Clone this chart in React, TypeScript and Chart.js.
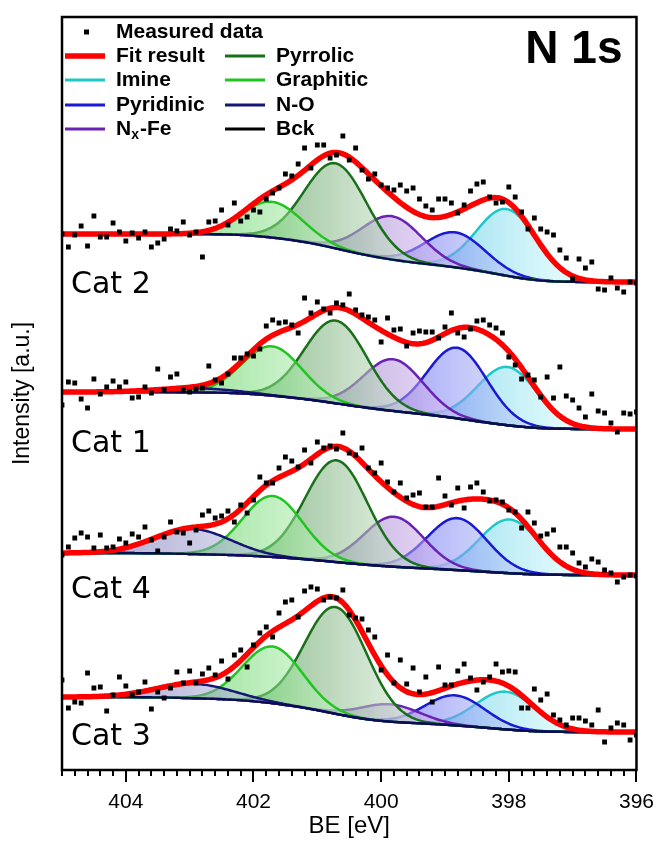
import React, { useEffect, useRef } from "react";
import { Chart, registerables } from "chart.js";
Chart.register(...registerables);

// ---------- data ----------
const SPECTRA = ["Cat 2", "Cat 1", "Cat 4", "Cat 3"];
const COMPONENTS = ["Imine", "Pyridinic", "Nx-Fe", "Pyrrolic", "Graphitic", "N-O"];
const COMP_LINE = ["#1ec8c8", "#1a1ad2", "#6a22b4", "#1a701a", "#22c422", "#161676"];
const COMP_FILL_LEFT = [
  "rgba(70,195,225,0.60)",
  "rgba(85,85,240,0.60)",
  "rgba(125,95,185,0.55)",
  "rgba(70,145,70,0.62)",
  "rgba(80,205,80,0.58)",
  "rgba(80,80,160,0.50)",
];
const COMP_FILL_RIGHT = [
  "rgba(220,255,255,0.50)",
  "rgba(200,215,250,0.50)",
  "rgba(238,208,255,0.55)",
  "rgba(222,238,222,0.55)",
  "rgba(205,248,205,0.50)",
  "rgba(205,205,238,0.45)",
];
const FWHM = [1.1, 1.1, 1.1, 1.15, 1.1, 1.4];

// peak centres (eV) : Imine, Pyridinic, Nx-Fe, Pyrrolic, Graphitic, N-O
const CENTER_CAT2 = [398.03, 398.84, 399.83, 400.71, 401.71, 402.95];
const CENTER_CAT1 = [398.02, 398.81, 399.81, 400.71, 401.71, 402.9];
const CENTER_CAT4 = [397.99, 398.81, 399.8, 400.7, 401.7, 402.96];
const CENTER_CAT3 = [398.05, 398.84, 399.86, 400.71, 401.7, 402.93];
// peak heights above background (a.u.)
const HEIGHT_CAT2 = [66.7, 35, 43.3, 85, 35.7, 0];
const HEIGHT_CAT1 = [58.3, 70.7, 51.7, 82.7, 49.3, 4];
const HEIGHT_CAT4 = [53.7, 52, 50, 101.7, 61, 25];
const HEIGHT_CAT3 = [37.7, 30, 17.3, 106.7, 56.7, 14.3];
// Shirley background level at 405 eV and at 396 eV
const BG_HIGH = [536, 378, 217, 73];
const BG_LOW = [488, 341, 195, 38];

// measured points, 405.0 -> 396.0 eV in 0.1 eV steps
const MEAS_CAT2 = [
  536, 523, 535, 544, 524, 554, 533, 533, 547, 538,
  529, 537, 532, 538, 523, 527, 531, 541, 539, 548,
  535, 538, 513, 548, 549, 560, 545, 567, 549, 553,
  560, 558, 571, 577, 582, 596, 594, 606, 622, 602,
  625, 625, 612, 615, 634, 610, 622, 600, 591, 596,
  585, 582, 580, 585, 579, 582, 571, 564, 560, 571,
  571, 567, 557, 565, 579, 586, 588, 573, 567, 568,
  583, 573, 558, 541, 552, 541, 538, 535, 520, 512,
  491, 511, 502, 508, 481, 480, 492, 482, 478, 488, 487,
];
const MEAS_CAT1 = [
  365, 388, 387, 371, 362, 391, 376, 383, 389, 383,
  388, 372, 373, 383, 377, 401, 380, 393, 396, 380,
  378, 381, 382, 404, 390, 387, 396, 412, 412, 416,
  414, 421, 444, 450, 447, 448, 445, 437, 472, 457,
  468, 461, 457, 467, 465, 476, 460, 455, 453, 450,
  428, 452, 440, 441, 424, 437, 439, 438, 438, 432,
  443, 457, 437, 433, 441, 449, 450, 445, 442, 437,
  413, 405, 391, 395, 390, 373, 393, 372, 403, 374,
  370, 362, 353, 376, 359, 357, 347, 338, 357, 356, 358,
];
const MEAS_CAT4 = [
  215, 223, 232, 237, 233, 222, 235, 222, 223, 231,
  227, 236, 233, 243, 230, 219, 233, 248, 238, 237,
  227, 240, 255, 259, 252, 254, 259, 248, 265, 257,
  270, 293, 287, 287, 302, 313, 309, 303, 320, 307,
  328, 322, 324, 321, 337, 317, 315, 322, 302, 297,
  307, 288, 278, 287, 272, 275, 277, 263, 263, 292,
  274, 265, 282, 262, 283, 287, 278, 269, 270, 268,
  260, 258, 242, 258, 247, 234, 236, 240, 223, 223,
  217, 207, 203, 211, 208, 200, 197, 188, 193, 195, 194,
];
const MEAS_CAT3 = [
  90, 62, 68, 67, 97, 82, 83, 59, 75, 93,
  84, 75, 78, 88, 61, 78, 72, 82, 98, 87,
  99, 87, 96, 102, 95, 109, 91, 115, 120, 103,
  125, 137, 143, 133, 157, 168, 170, 153, 179, 183,
  181, 170, 173, 172, 180, 155, 152, 151, 140, 133,
  100, 115, 87, 110, 86, 102, 78, 93, 68, 103,
  85, 85, 99, 106, 92, 80, 88, 93, 106, 98,
  99, 98, 62, 62, 81, 70, 76, 55, 50, 45,
  52, 52, 49, 45, 60, 28, 42, 47, 45, 30, 35,
];
const LABEL_Y = [477, 318, 172, 25];

const CENTERS = [CENTER_CAT2, CENTER_CAT1, CENTER_CAT4, CENTER_CAT3];
const HEIGHTS = [HEIGHT_CAT2, HEIGHT_CAT1, HEIGHT_CAT4, HEIGHT_CAT3];
const MEAS = [MEAS_CAT2, MEAS_CAT1, MEAS_CAT4, MEAS_CAT3];

const BE_LEFT = 405;
const BE_RIGHT = 396;
const MEAS_BE = MEAS_CAT2.map((_, i) => +(BE_LEFT - i * 0.1).toFixed(1));
const MODEL_BE = Array.from({ length: 361 }, (_, i) => +(BE_LEFT - i * 0.025).toFixed(3));

// ---------- model helpers (Gaussian components + Shirley background) ----------
const SIG = (fw: number) => fw / 2.35482;
function erf(x: number) {
  const s = x < 0 ? -1 : 1;
  const a = Math.abs(x);
  const t = 1 / (1 + 0.3275911 * a);
  const y = 1 - ((((1.061405429 * t - 1.453152027) * t + 1.421413741) * t - 0.284496736) * t + 0.254829592) * t * Math.exp(-a * a);
  return s * y;
}
const phi = (z: number) => 0.5 * (1 + erf(z / Math.SQRT2));
function gauss(x: number, c: number, h: number, fw: number) {
  const s = SIG(fw);
  return h * Math.exp(-0.5 * ((x - c) / s) ** 2);
}
function buildModel(s: number) {
  const c = CENTERS[s];
  const h = HEIGHTS[s];
  const areas = h.map((hh, k) => hh * FWHM[k]);
  const total = areas.reduce((a, b) => a + b, 0);
  const bg = MODEL_BE.map((x) => {
    const frac = areas.reduce((acc, a, k) => acc + a * phi((x - c[k]) / SIG(FWHM[k])), 0) / total;
    return BG_LOW[s] + (BG_HIGH[s] - BG_LOW[s]) * frac;
  });
  const comps = c.map((ck, k) => MODEL_BE.map((x, i) => bg[i] + gauss(x, ck, h[k], FWHM[k])));
  const fit = MODEL_BE.map((x, i) => bg[i] + c.reduce((acc, ck, k) => acc + gauss(x, ck, h[k], FWHM[k]), 0));
  return { bg, comps, fit };
}

const isMajor = (v: number) => Math.abs(v - Math.round(v)) < 1e-6 && Math.round(v) % 2 === 0;

const FONT = '"Liberation Sans", Arial, Helvetica, sans-serif';

const decor = {
  id: "decor",
  afterDraw(chart: any) {
    const { ctx, chartArea: a, scales } = chart;
    const xs = scales.x;
    const ys = scales.y;
    ctx.save();
    // minor ticks
    ctx.strokeStyle = "#000";
    ctx.lineWidth = 2;
    xs.ticks.forEach((t: any) => {
      if (!isMajor(t.value)) {
        const px = Math.round(xs.getPixelForValue(t.value));
        ctx.beginPath();
        ctx.moveTo(px, a.bottom);
        ctx.lineTo(px, a.bottom + 6);
        ctx.stroke();
      }
    });
    // frame
    ctx.lineWidth = 2.5;
    ctx.strokeRect(a.left, a.top, a.right - a.left, a.bottom - a.top);

    // sample labels
    ctx.fillStyle = "#000";
    ctx.font = '30px "DejaVu Sans", Verdana, sans-serif';
    ctx.textAlign = "left";
    ctx.textBaseline = "alphabetic";
    SPECTRA.forEach((name, s) => ctx.fillText(name, a.left + 9, ys.getPixelForValue(LABEL_Y[s])));

    // N 1s
    ctx.font = `bold 46px ${FONT}`;
    ctx.textAlign = "right";
    ctx.fillText("N 1s", a.right - 14, a.top + 46);

    // legend
    const rows = [15, 39, 63, 88, 112].map((r) => a.top + r);
    const c1 = a.left + 3;
    const c2 = a.left + 163;
    const lw = 40;
    const tx = 49;
    ctx.textAlign = "left";
    ctx.textBaseline = "middle";
    const fontB = `bold 21px ${FONT}`;
    ctx.font = fontB;
    // measured data
    ctx.fillRect(c1 + 19, rows[0] - 2.5, 5, 5);
    ctx.fillText("Measured data", c1 + tx + 2, rows[0]);
    const entry = (x: number, y: number, color: string, w: number, label: string) => {
      ctx.strokeStyle = color;
      ctx.lineWidth = w;
      ctx.beginPath();
      ctx.moveTo(x, y);
      ctx.lineTo(x + lw, y);
      ctx.stroke();
      ctx.fillStyle = "#000";
      if (label === "Nx-Fe") {
        ctx.font = fontB;
        ctx.fillText("N", x + tx + 2, y);
        const wN = ctx.measureText("N").width;
        ctx.font = `bold 14px ${FONT}`;
        ctx.fillText("x", x + tx + 2 + wN, y + 6);
        const wx = ctx.measureText("x").width;
        ctx.font = fontB;
        ctx.fillText("-Fe", x + tx + 2 + wN + wx + 1, y);
      } else {
        ctx.font = fontB;
        ctx.fillText(label, x + tx + 2, y);
      }
    };
    entry(c1, rows[1], "#ff0000", 5.5, "Fit result");
    entry(c1, rows[2], COMP_LINE[0], 3, "Imine");
    entry(c1, rows[3], COMP_LINE[1], 3, "Pyridinic");
    entry(c1, rows[4], COMP_LINE[2], 3, "Nx-Fe");
    entry(c2, rows[1], COMP_LINE[3], 3, "Pyrrolic");
    entry(c2, rows[2], COMP_LINE[4], 3, "Graphitic");
    entry(c2, rows[3], COMP_LINE[5], 3, "N-O");
    entry(c2, rows[4], "#000000", 3, "Bck");
    ctx.restore();
  },
};

export default function App() {
  const ref = useRef<HTMLCanvasElement | null>(null);
  useEffect(() => {
    if (!ref.current) return;
    const datasets: any[] = [];
    SPECTRA.forEach((name, s) => {
      const m = buildModel(s);
      datasets.push({
        label: name + " data",
        data: MEAS_BE.map((x, i) => ({ x, y: MEAS[s][i] })),
        showLine: false,
        pointStyle: "rect",
        pointRadius: 3.4,
        pointBorderWidth: 0,
        backgroundColor: "#000",
        borderColor: "#000",
        order: 0,
      });
      datasets.push({
        label: name + " fit",
        data: MODEL_BE.map((x, i) => ({ x, y: m.fit[i] })),
        showLine: true,
        borderColor: "#ff0000",
        borderWidth: 5.5,
        pointRadius: 0,
        fill: false,
        order: 1,
      });
      const bgIndex = datasets.length;
      datasets.push({
        label: name + " Bck",
        data: MODEL_BE.map((x, i) => ({ x, y: m.bg[i] })),
        showLine: true,
        borderColor: "#0c0c55",
        borderWidth: 2.4,
        pointRadius: 0,
        fill: false,
        order: 2,
      });
      COMPONENTS.forEach((comp, k) => {
        if (HEIGHTS[s][k] <= 0) return;
        const c = CENTERS[s][k];
        const fw = FWHM[k];
        datasets.push({
          label: name + " " + comp,
          data: MODEL_BE.map((x, i) => ({ x, y: m.comps[k][i] })),
          showLine: true,
          borderColor: COMP_LINE[k],
          borderWidth: 2.5,
          pointRadius: 0,
          fill: bgIndex,
          backgroundColor: (ctx: any) => {
            const chart = ctx.chart;
            const xs = chart.scales && chart.scales.x;
            if (!chart.chartArea || !xs) return COMP_FILL_RIGHT[k];
            const x0 = xs.getPixelForValue(c + 1.2 * fw);
            const x1 = xs.getPixelForValue(c - 1.2 * fw);
            const g = chart.ctx.createLinearGradient(x0, 0, x1, 0);
            g.addColorStop(0, COMP_FILL_LEFT[k]);
            g.addColorStop(1, COMP_FILL_RIGHT[k]);
            return g;
          },
          order: 3 + (5 - k),
        });
      });
    });

    const chart = new Chart(ref.current, {
      type: "scatter",
      data: { datasets },
      options: {
        animation: false,
        responsive: false,
        events: [],
        layout: { padding: { left: 8, right: 20, top: 17, bottom: 0 } },
        plugins: { legend: { display: false }, tooltip: { enabled: false } },
        scales: {
          x: {
            type: "linear",
            reverse: true,
            min: BE_RIGHT,
            max: BE_LEFT,
            afterFit: (sc: any) => {
              sc.height = 72;
            },
            border: { display: false },
            grid: {
              drawOnChartArea: false,
              drawTicks: true,
              tickLength: 12,
              lineWidth: 2,
              tickWidth: 2,
              tickColor: (c: any) => (c.tick && isMajor(c.tick.value) ? "#000" : "rgba(0,0,0,0)"),
            },
            ticks: {
              stepSize: 0.2,
              autoSkip: false,
              maxRotation: 0,
              padding: 8,
              color: "#000",
              font: { family: FONT, size: 21 },
              callback: (v: any) => (isMajor(Number(v)) ? String(Math.round(Number(v))) : ""),
            },
            title: {
              display: true,
              text: "BE [eV]",
              color: "#000",
              font: { family: FONT, size: 24 },
              padding: { top: 0, bottom: 1 },
            },
          },
          y: {
            type: "linear",
            min: 0,
            max: 753,
            afterFit: (sc: any) => {
              sc.width = 54;
            },
            border: { display: false },
            grid: { display: false, drawTicks: false },
            ticks: { display: false },
            title: {
              display: true,
              text: "Intensity [a.u.]",
              color: "#000",
              font: { family: FONT, size: 23 },
              padding: { top: 1, bottom: 0 },
            },
          },
        },
      },
      plugins: [decor],
    });
    return () => chart.destroy();
  }, []);
  return (
    <div style={{ position: "absolute", left: 0, top: 0, width: 662, height: 842, background: "#fff" }}>
      <style>{"body{margin:0}"}</style>
      <canvas ref={ref} width={662} height={842} style={{ display: "block" }} />
    </div>
  );
}
